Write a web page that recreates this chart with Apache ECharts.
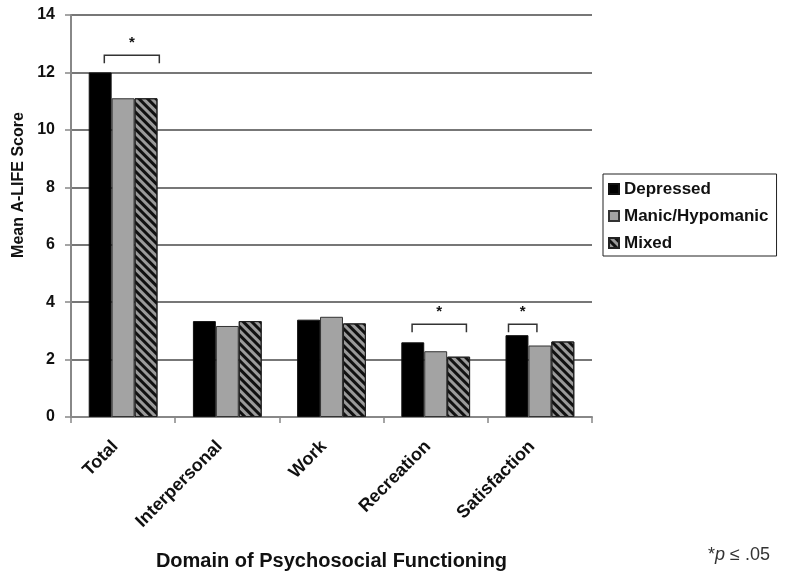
<!DOCTYPE html>
<html>
<head>
<meta charset="utf-8">
<script src="https://cdn.jsdelivr.net/npm/echarts@6/dist/echarts.min.js"></script>
<style>
  html, body { margin: 0; padding: 0; background: #fff; }
  #main { width: 800px; height: 582px; }
</style>
</head>
<body>
<div id="main"></div>
<script>
const categories = ['Total', 'Interpersonal', 'Work', 'Recreation', 'Satisfaction'];
const depressed = [12.0, 3.34, 3.39, 2.6, 2.85];
const manic = [11.1, 3.17, 3.49, 2.29, 2.49];
const mixed = [11.1, 3.34, 3.26, 2.1, 2.63];
const seriesNames = ['Depressed', 'Manic/Hypomanic', 'Mixed'];

// significance brackets: which groups, and at what score height the bracket sits
const sigCategories = ['Total', 'Recreation', 'Satisfaction'];
const sigLevels = [12.6, 3.23, 3.23];

const FONT = '"Liberation Sans", Arial, sans-serif';
const BAR_GAP_PCT = 34;

const chart = echarts.init(document.getElementById('main'));

const barBase = {
  type: 'bar',
  barGap: 0,
  barCategoryGap: BAR_GAP_PCT + '%',
  animation: false
};

chart.setOption({
  animation: false,
  grid: { left: 71, right: 208, top: 15, bottom: 165, outerBoundsMode: 'none' },
  legend: {
    orient: 'vertical',
    left: 603,
    top: 174,
    data: seriesNames,
    itemWidth: 10,
    itemHeight: 10,
    itemGap: 7,
    padding: [5, 8, 3, 5],
    borderColor: '#222',
    borderWidth: 1,
    icon: 'rect',
    textStyle: { fontFamily: FONT, fontWeight: 'bold', fontSize: 17, color: '#111', lineHeight: 20 }
  },
  xAxis: {
    type: 'category',
    data: categories,
    name: 'Domain of Psychosocial Functioning',
    nameLocation: 'middle',
    nameGap: 134,
    nameTextStyle: { fontFamily: FONT, fontWeight: 'bold', fontSize: 20, color: '#111' },
    axisLine: { lineStyle: { color: '#888', width: 2 } },
    axisTick: { show: true, length: 6, lineStyle: { color: '#888', width: 1.5 } },
    axisLabel: {
      rotate: 45, margin: 19, padding: [0, 11, 0, 0],
      fontFamily: FONT, fontWeight: 'bold', fontSize: 18, color: '#111'
    },
    splitLine: { show: false }
  },
  yAxis: {
    type: 'value',
    min: 0,
    max: 14,
    interval: 2,
    name: 'Mean A-LIFE Score',
    nameLocation: 'middle',
    nameGap: 41,
    nameTextStyle: { fontFamily: FONT, fontWeight: 'bold', fontSize: 16, color: '#111', padding: [0, 0, 0, 62] },
    axisLine: { show: true, lineStyle: { color: '#888', width: 2 } },
    axisTick: { show: true, length: 6, lineStyle: { color: '#888', width: 1.5 } },
    axisLabel: { margin: 16, fontFamily: FONT, fontWeight: 'bold', fontSize: 16, color: '#111' },
    splitLine: { show: true, lineStyle: { color: '#4a4a4a', width: 1.6 } }
  },
  series: [
    Object.assign({}, barBase, {
      name: seriesNames[0],
      data: depressed,
      itemStyle: { color: '#000', borderColor: '#111', borderWidth: 1 }
    }),
    Object.assign({}, barBase, {
      name: seriesNames[1],
      data: manic,
      itemStyle: { color: '#a3a3a3', borderColor: '#333', borderWidth: 1 }
    }),
    Object.assign({}, barBase, {
      name: seriesNames[2],
      data: mixed,
      itemStyle: {
        color: '#9a9a9a',
        borderColor: '#222',
        borderWidth: 1,
        decal: {
          symbol: 'rect',
          symbolSize: 1,
          dashArrayX: [1, 0],
          dashArrayY: [2.5, 2.5],
          rotation: Math.PI / 4,
          color: '#111'
        }
      }
    })
  ]
});

// bracket spans, in bar widths from the group centre
const bracketSpans = [[-0.82, 1.58], [-1.03, 1.34], [-1.37, -0.13]];
const c0 = chart.convertToPixel({ xAxisIndex: 0 }, categories[0]);
const c1 = chart.convertToPixel({ xAxisIndex: 0 }, categories[1]);
const barW = (c1 - c0) * (1 - BAR_GAP_PCT / 100) / 3;

const graphics = [];
sigCategories.forEach((cat, i) => {
  const cx = chart.convertToPixel({ xAxisIndex: 0 }, cat);
  const y = chart.convertToPixel({ yAxisIndex: 0 }, sigLevels[i]);
  const x1 = cx + bracketSpans[i][0] * barW;
  const x2 = cx + bracketSpans[i][1] * barW;
  graphics.push({
    type: 'polyline',
    shape: { points: [[x1, y + 8], [x1, y], [x2, y], [x2, y + 8]] },
    style: { stroke: '#333', lineWidth: 1.5, fill: null }
  });
  graphics.push({
    type: 'text',
    x: (x1 + x2) / 2,
    y: y - 5,
    style: { text: '*', font: 'bold 15px ' + FONT, fill: '#111', align: 'center', verticalAlign: 'bottom' }
  });
});

graphics.push({
  type: 'text',
  right: 30,
  top: 546,
  style: {
    text: '*{i|p} ≤ .05',
    font: '18px ' + FONT,
    fill: '#333',
    rich: { i: { fontStyle: 'italic', fontSize: 18, fontFamily: FONT, fill: '#333' } }
  }
});

chart.setOption({ graphic: graphics });
</script>
</body>
</html>
